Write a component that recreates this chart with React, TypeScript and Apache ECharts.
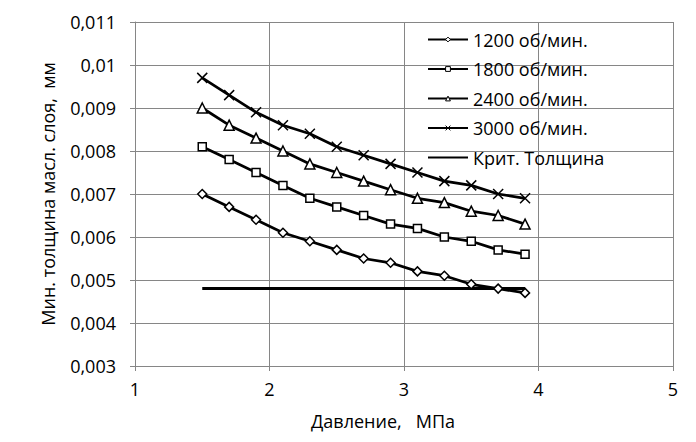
import React, { useEffect, useRef } from "react";
import * as echarts from "echarts";

const pressure = [1.5, 1.7, 1.9, 2.1, 2.3, 2.5, 2.7, 2.9, 3.1, 3.3, 3.5, 3.7, 3.9];
const s1200 = [0.007, 0.0067, 0.0064, 0.0061, 0.0059, 0.0057, 0.0055, 0.0054, 0.0052, 0.0051, 0.0049, 0.0048, 0.0047];
const s1800 = [0.0081, 0.0078, 0.0075, 0.0072, 0.0069, 0.0067, 0.0065, 0.0063, 0.0062, 0.006, 0.0059, 0.0057, 0.0056];
const s2400 = [0.009, 0.0086, 0.0083, 0.008, 0.0077, 0.0075, 0.0073, 0.0071, 0.0069, 0.0068, 0.0066, 0.0065, 0.0063];
const s3000 = [0.0097, 0.0093, 0.0089, 0.0086, 0.0084, 0.0081, 0.0079, 0.0077, 0.0075, 0.0073, 0.0072, 0.007, 0.0069];
const critX = [1.5, 3.9];
const critY = [0.0048, 0.0048];
const seriesNames = ["1200 об/мин.", "1800 об/мин.", "2400 об/мин.", "3000 об/мин.", "Крит. Толщина"];
const xName = "Давление,   МПа";
const yName = "Мин. толщина масл. слоя,  мм";

const FONT = "Open Sans";
const FS = 18;
const GRID = "#868686";

export default function App() {
  const ref = useRef<HTMLDivElement>(null);
  useEffect(() => {
    const chart = echarts.init(ref.current!, null, { renderer: "svg" });
    const pts = (ys: number[]) => pressure.map((x, i) => [x, ys[i]]);
    const mk = (name: string, data: number[][], symbol: string, size: number, cross = false) => ({
      name,
      type: "line",
      data,
      symbol,
      symbolSize: size,
      showSymbol: true,
      lineStyle: { color: "#000", width: 2.75 },
      itemStyle: { color: cross ? "#000" : "#fff", borderColor: "#000", borderWidth: 1.5 },
      z: 3,
    });
    chart.setOption({
      animation: false,
      backgroundColor: "#fff",
      textStyle: { fontFamily: FONT },
      grid: { left: 135, right: 23, top: 22, bottom: 76, containLabel: false },
      legend: {
        orient: "vertical",
        left: 422,
        top: 24,
        itemWidth: 40,
        itemHeight: 6,
        itemGap: 8.5,
        itemStyle: { borderWidth: 1 },
        textStyle: { fontFamily: FONT, fontSize: FS, color: "#000", lineHeight: 21 },
        data: seriesNames,
      },
      xAxis: {
        type: "value",
        min: 1,
        max: 5,
        interval: 1,
        name: xName,
        nameLocation: "middle",
        nameGap: 46,
        nameTextStyle: { fontFamily: FONT, fontSize: FS, color: "#000", padding: [0, 42, 0, 0] },
        axisLine: { show: true, lineStyle: { color: GRID, width: 1 } },
        axisTick: { show: true, length: 5, lineStyle: { color: GRID } },
        axisLabel: { fontFamily: FONT, fontSize: FS, color: "#000", margin: 14 },
        splitLine: { show: true, lineStyle: { color: GRID, width: 1 } },
      },
      yAxis: {
        type: "value",
        min: 0.003,
        max: 0.011,
        interval: 0.001,
        name: yName,
        nameLocation: "middle",
        nameGap: 78,
        nameTextStyle: { fontFamily: FONT, fontSize: FS, color: "#000" },
        axisLine: { show: true, lineStyle: { color: GRID, width: 1 } },
        axisTick: { show: true, length: 5, lineStyle: { color: GRID } },
        axisLabel: {
          fontFamily: FONT,
          fontSize: FS,
          color: "#000",
          margin: 19,
          formatter: (v: number) => String(+v.toFixed(4)).replace(".", ","),
        },
        splitLine: { show: true, lineStyle: { color: GRID, width: 1 } },
      },
      series: [
        mk(seriesNames[0], pts(s1200), "diamond", 9),
        mk(seriesNames[1], pts(s1800), "rect", 8),
        mk(seriesNames[2], pts(s2400), "triangle", 10),
        mk(seriesNames[3], pts(s3000), "path://M0,0L10,10M10,0L0,10", 10, true),
        {
          name: seriesNames[4],
          type: "line",
          data: critX.map((x, i) => [x, critY[i]]),
          symbol: "circle",
          symbolSize: 0,
          showSymbol: false,
          lineStyle: { color: "#000", width: 3 },
          itemStyle: { color: "rgba(0,0,0,0)", borderColor: "rgba(0,0,0,0)", borderWidth: 0 },
          z: 2,
        },
      ],
    });
    return () => chart.dispose();
  }, []);
  return <div ref={ref} style={{ position: "absolute", left: 0, top: 0, width: 696, height: 442 }} />;
}
